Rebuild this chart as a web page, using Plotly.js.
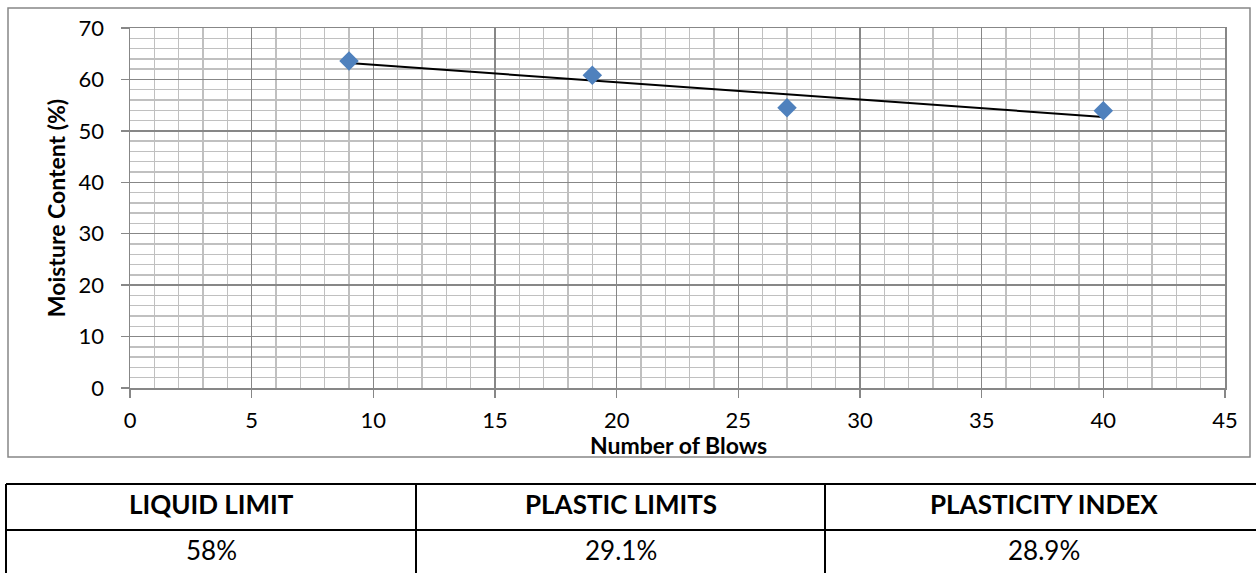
<!DOCTYPE html>
<html>
<head>
<meta charset="utf-8">
<script src="https://cdn.plot.ly/plotly-3.0.1.min.js"></script>
<style>html,body{margin:0;padding:0;background:#fff;}#chart{width:1256px;height:573px;}</style>
</head>
<body>
<div id="chart"></div>
<script>
// ---- data ----
const blows = [9, 19, 27, 40];
const moisture = [63.6, 60.8, 54.5, 53.9];
const tableHeaders = ["LIQUID LIMIT", "PLASTIC LIMITS", "PLASTICITY INDEX"];
const tableValues = ["58%", "29.1%", "28.9%"];
const xTitle = "Number of Blows";
const yTitle = "Moisture Content (%)";

// linear least-squares trendline computed from the data
const n = blows.length;
const mx = blows.reduce((a, b) => a + b, 0) / n;
const my = moisture.reduce((a, b) => a + b, 0) / n;
let sxy = 0, sxx = 0;
for (let i = 0; i < n; i++) { sxy += (blows[i] - mx) * (moisture[i] - my); sxx += (blows[i] - mx) ** 2; }
const slope = sxy / sxx, intercept = my - slope * mx;
const trendX = [Math.min(...blows), Math.max(...blows)];
const trendY = trendX.map(x => intercept + slope * x);

// ---- layout helpers (pixel -> paper) ----
const W = 1256, H = 573;
const L = 130, R = 31, T = 28, B = 185;
const PW = W - L - R, PH = H - T - B;
const px = x => (x - L) / PW;
const py = y => (H - B - y) / PH;

const font = "Lato, 'Open Sans', sans-serif";
const major = "#878787", minor = "#c0c0c0";

const traces = [
  { x: trendX, y: trendY, mode: "lines", line: { color: "#000", width: 2 }, hoverinfo: "skip", showlegend: false },
  { x: blows, y: moisture, mode: "markers", marker: { symbol: "diamond", size: 15, color: "#4F81BD" }, showlegend: false }
];

const shapes = [];
const lineStyle = { color: "#878787", width: 1.5 };
// outer chart border
shapes.push({ type: "rect", xref: "paper", yref: "paper", x0: px(8), x1: px(1250), y0: py(8), y1: py(457), line: lineStyle, layer: "below" });
// table lines
const tLine = { color: "#000", width: 2 };
const tTop = 484, tMid = 530, tBot = 575, tLeft = 6, tRight = 1258;
const cols = [tLeft, 416, 825, tRight];
[tTop, tMid, tBot].forEach(y => shapes.push({ type: "line", xref: "paper", yref: "paper", x0: px(tLeft), x1: px(tRight), y0: py(y), y1: py(y), line: tLine }));
cols.forEach(x => shapes.push({ type: "line", xref: "paper", yref: "paper", x0: px(x), x1: px(x), y0: py(tTop), y1: py(tBot), line: tLine }));

const annotations = [];
const tcx = [(tLeft + 416) / 2, (416 + 825) / 2, (825 + 1250) / 2 + 6];
for (let i = 0; i < 3; i++) {
  annotations.push({ xref: "paper", yref: "paper", x: px(tcx[i]), y: py(504), text: "<b>" + tableHeaders[i] + "</b>", showarrow: false, xanchor: "center", yanchor: "middle", font: { family: font, size: 26, color: "#000" } });
  annotations.push({ xref: "paper", yref: "paper", x: px(tcx[i]), y: py(550), text: tableValues[i], showarrow: false, xanchor: "center", yanchor: "middle", font: { family: font, size: 26, color: "#000" } });
}
// x-axis title (placed close under the tick labels, as in the original)
annotations.push({ xref: "paper", yref: "paper", x: px(678), y: py(445), text: "<b>" + xTitle + "</b>", showarrow: false, xanchor: "center", yanchor: "middle", font: { family: font, size: 23, color: "#000" } });

const layout = {
  width: W, height: H,
  margin: { l: L, r: R, t: T, b: B, pad: 0 },
  paper_bgcolor: "#fff", plot_bgcolor: "#fff",
  font: { family: font, color: "#000" },
  showlegend: false,
  xaxis: {
    range: [0, 45], dtick: 5, tick0: 0, autorange: false,
    showgrid: true, gridcolor: major, gridwidth: 1.5,
    minor: { dtick: 1, showgrid: true, gridcolor: minor, gridwidth: 1.5 },
    showline: true, linecolor: major, linewidth: 1.5, mirror: true,
    ticks: "outside", ticklen: 8, tickcolor: major, tickwidth: 1.5,
    ticklabelstandoff: 4,
    zeroline: false,
    tickfont: { family: font, size: 22, color: "#000" }
  },
  yaxis: {
    range: [0, 70], dtick: 10, tick0: 0, autorange: false,
    showgrid: true, gridcolor: major, gridwidth: 1.5,
    minor: { dtick: 2, showgrid: true, gridcolor: minor, gridwidth: 1.5 },
    showline: true, linecolor: major, linewidth: 1.5, mirror: true,
    ticks: "outside", ticklen: 8, tickcolor: major, tickwidth: 1.5,
    ticklabelstandoff: 12,
    zeroline: false,
    tickfont: { family: font, size: 22, color: "#000" },
    title: { text: "<b>" + yTitle + "</b>", font: { family: font, size: 23, color: "#000" }, standoff: 6 }
  },
  shapes: shapes,
  annotations: annotations
};

Plotly.newPlot("chart", traces, layout, { staticPlot: true, displayModeBar: false });
</script>
</body>
</html>
